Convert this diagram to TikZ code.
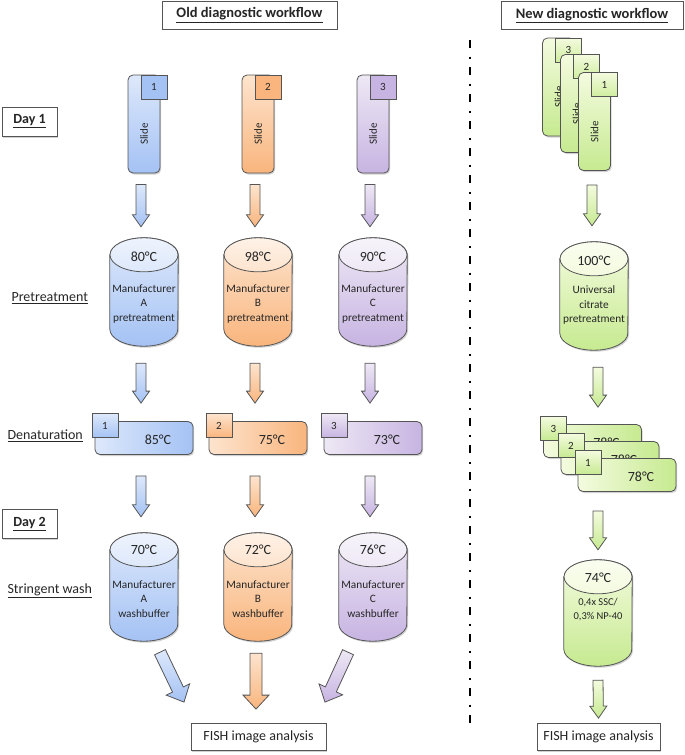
\documentclass[tikz,border=0pt]{standalone}
\usepackage{fontspec}
\setmainfont{Carlito}
\usetikzlibrary{calc, shadows}

\definecolor{blueL}{HTML}{DDE8FB}
\definecolor{blueD}{HTML}{A4C2F4}
\definecolor{orangeL}{HTML}{FDE4CE}
\definecolor{orangeD}{HTML}{F9B57D}
\definecolor{purpleL}{HTML}{EEE8F5}
\definecolor{purpleD}{HTML}{C7B4E2}
\definecolor{greenL}{HTML}{F4FBDF}
\definecolor{greenD}{HTML}{C6EA90}
\definecolor{edge}{HTML}{555555}
\definecolor{ink}{HTML}{262626}

% block arrow: from, to, colour, half shaft, half head, head length
\newcommand{\blockarrow}[6]{%
  \coordinate (ba) at (#1);
  \coordinate (bb) at (#2);
  \coordinate (bh) at ($(bb)!#6!(ba)$);
  \draw[blockarr, top color=#3L, bottom color=#3D]
    ($(ba)!#4!90:(bb)$) -- ($(bh)!#4!90:(bb)$) -- ($(bh)!#5!90:(bb)$)
    -- (bb) -- ($(bh)!#5!-90:(bb)$) -- ($(bh)!#4!-90:(bb)$)
    -- ($(ba)!#4!-90:(bb)$) -- cycle;}
\newcommand{\smallarr}[3]{\blockarrow{#1}{#2}{#3}{5pt}{8.5pt}{12pt}}

% cylinder drawn over an empty node
\newcommand{\drum}[2]{%
  \shade[drumline, softshadow, top color=#2L, bottom color=#2D]
    ([yshift=-17pt]#1.north west) -- ([yshift=17pt]#1.south west)
    arc[start angle=180, end angle=360, x radius=34pt, y radius=17pt]
    -- ([yshift=-17pt]#1.north east)
    arc[start angle=0, end angle=180, x radius=34pt, y radius=17pt] -- cycle;
  \shade[drumline, top color=#2L!50!white, bottom color=#2L]
    ([yshift=-17pt]#1.north) ellipse [x radius=34pt, y radius=17pt];}

\begin{document}
\begin{tikzpicture}[x=1pt, y=-1pt,
    softshadow/.style={drop shadow={shadow xshift=1.2pt, shadow yshift=-1.5pt, opacity=0.3, fill=black!60}},
    titlebox/.style={draw=edge, line width=0.8pt, fill=white, text=ink, font=\fontsize{14.5}{16}\selectfont\bfseries, minimum height=28pt},
    daybox/.style={draw=edge, line width=0.8pt, fill=white, text=ink, font=\fontsize{14}{16}\selectfont\bfseries, minimum width=55pt, minimum height=29pt, softshadow},
    steplabel/.style={anchor=west, text=ink, font=\fontsize{14}{16}\selectfont},
    slide/.style={rectangle, rounded corners=5pt, draw=edge, line width=0.8pt, minimum width=32pt, minimum height=98pt, softshadow},
    slidetext/.style={rotate=90, text=ink, inner sep=0pt, font=\fontsize{11}{13}\selectfont},
    numbox/.style={rectangle, draw=edge, line width=0.8pt, minimum width=26pt, minimum height=24pt, inner sep=0pt, text=ink, font=\fontsize{11}{13}\selectfont},
    denbox/.style={rectangle, rounded corners=5pt, draw=edge, line width=0.8pt, minimum width=98pt, minimum height=33pt, softshadow},
    drumbox/.style={minimum width=68pt, minimum height=108pt, inner sep=0pt},
    drumline/.style={draw=edge, line width=0.8pt},
    temp/.style={text=ink, inner sep=0pt, font=\fontsize{14}{16}\selectfont},
    drumtext/.style={align=center, text=ink, inner sep=0pt, font=\fontsize{11.3}{14.5}\selectfont},
    fishbox/.style={draw=edge, line width=0.8pt, fill=white, text=ink, minimum height=27pt, font=\fontsize{14}{16}\selectfont, softshadow},
    blockarr/.style={draw=edge, line width=0.8pt, line join=miter},
    sepline/.style={line width=2.4pt, dash pattern=on 8pt off 8.5pt on 2pt off 8.5pt}]
\useasboundingbox (0,0) rectangle (685,755);

% Titles and row labels
\node[titlebox, minimum width=175pt] (old) at (249.5,15) {\underline{Old diagnostic workflow}};
\node[titlebox, minimum width=182pt] (new) at (592,15.5) {\underline{New diagnostic workflow}};
\node[daybox] (day1) at (29.5,121.5) {\underline{Day 1}};
\node[daybox] (day2) at (29.5,524) {\underline{Day 2}};
\node[steplabel] (lpre) at (8,298) {\underline{Pretreatment}};
\node[steplabel] (lden) at (4,436) {\underline{Denaturation}};
\node[steplabel] (lwash) at (4,591) {\underline{Stringent wash}};

% Separator
\draw[sepline] (470,40) -- (470,724);

% Old workflow, one column per manufacturer
\foreach \x/\col/\n/\tp/\td/\tw/\m in {144/blue/1/80/85/70/A, 258/orange/2/98/75/72/B, 373/purple/3/90/73/76/C}{
  \node[slide, top color=\col L, bottom color=\col D] (slide\n) at (\x,124) {};
  \node[numbox, fill=\col D, anchor=north east] (snum\n) at ([xshift=7pt]slide\n.north east) {\n};
  \node[slidetext] (stxt\n) at ([yshift=-10pt]slide\n.center) {Slide};

  \node[drumbox] (pre\n) at (\x,292) {};
  \drum{pre\n}{\col}
  \node[temp] (pret\n) at ([yshift=-19pt]pre\n.north) {\tp°C};
  \node[drumtext] (prex\n) at ([yshift=-12pt]pre\n.center) {Manufacturer\\\m\\pretreatment};

  \node[denbox, left color=\col L, right color=\col D] (den\n) at (\x,438) {};
  \node[temp] (dent\n) at ([xshift=14pt,yshift=-2pt]den\n.center) {\td°C};
  \node[numbox, top color=\col L, bottom color=\col D, anchor=north west] (dnum\n) at ([xshift=-3pt,yshift=8pt]den\n.north west) {\n};

  \node[drumbox] (wash\n) at (\x,587) {};
  \drum{wash\n}{\col}
  \node[temp] (washt\n) at ([yshift=-17pt]wash\n.north) {\tw°C};
  \node[drumtext] (washx\n) at ([yshift=-12pt]wash\n.center) {Manufacturer\\\m\\washbuffer};

  \smallarr{[xshift=-3pt,yshift=-11pt]slide\n.south}{[xshift=-3pt,yshift=11pt]pre\n.north}{\col}
  \smallarr{[xshift=-3pt,yshift=-17pt]pre\n.south}{[xshift=-3pt,yshift=18pt]den\n.north}{\col}
  \smallarr{[xshift=-3pt,yshift=-21pt]den\n.south}{[xshift=-3pt,yshift=16pt]wash\n.north}{\col}
}

\node[fishbox, minimum width=135pt] (fish) at (258.5,737) {FISH image analysis};
\blockarrow{[xshift=16pt,yshift=-11pt]wash1.south}{[xshift=-74.5pt,yshift=21pt]fish.north}{blue}{6pt}{13pt}{14pt}
\blockarrow{[xshift=-2pt,yshift=-12pt]wash2.south}{[xshift=-2.5pt,yshift=14pt]fish.north}{orange}{6pt}{13pt}{14pt}
\blockarrow{[xshift=-25pt,yshift=-11pt]wash3.south}{[xshift=66.5pt,yshift=21pt]fish.north}{purple}{6pt}{13pt}{14pt}

% New workflow
\foreach \n/\px/\py in {3/558.5/87, 2/576.5/103.5, 1/594.5/121.5}{
  \node[slide, top color=greenL, bottom color=greenD] (nslide\n) at (\px,\py) {};
  \node[numbox, top color=greenL, bottom color=greenD!80!greenL, anchor=north east] (nsnum\n) at ([xshift=7pt]nslide\n.north east) {\n};
  \node[slidetext] (nstxt\n) at ([yshift=-10pt]nslide\n.center) {Slide};
}

\node[drumbox] (npre) at (594,296) {};
\drum{npre}{green}
\node[temp] (npret) at ([yshift=-19pt]npre.north) {100°C};
\node[drumtext] (nprex) at ([yshift=-9pt]npre.center) {Universal\\citrate\\pretreatment};

\foreach \n/\px/\py in {3/592.5/441, 2/610/458, 1/627/475}{
  \node[denbox, left color=greenL, right color=greenD] (nden\n) at (\px,\py) {};
  \node[temp] (ndent\n) at ([xshift=14pt,yshift=-2pt]nden\n.center) {78°C};
  \node[numbox, top color=greenL, bottom color=greenD, anchor=north west] (ndnum\n) at ([xshift=-3pt,yshift=8pt]nden\n.north west) {\n};
}

\node[drumbox, minimum height=106pt] (nwash) at (598,613) {};
\drum{nwash}{green}
\node[temp] (nwasht) at ([yshift=-18pt]nwash.north) {74°C};
\node[drumtext, font=\fontsize{10.5}{14}\selectfont] (nwashx) at ([yshift=3pt]nwash.center) {0,4x SSC/\\0,3\% NP-40};

\node[fishbox, minimum width=123pt] (nfish) at (598.5,737) {FISH image analysis};

\smallarr{[xshift=-2.5pt,yshift=-14pt]nslide1.south}{[xshift=-2pt,yshift=16pt]npre.north}{green}
\smallarr{[xshift=4pt,yshift=-17pt]npre.south}{[xshift=44.5pt,yshift=9pt]ndnum3.north}{green}
\smallarr{[xshift=-29pt,yshift=-19pt]nden1.south}{[yshift=10pt]nwash.north}{green}
\smallarr{[yshift=-14pt]nwash.south}{[yshift=5pt]nfish.north}{green}
\end{tikzpicture}
\end{document}
